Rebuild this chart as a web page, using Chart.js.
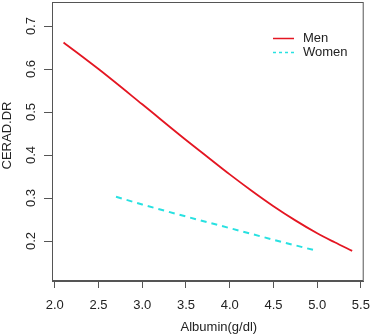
<!DOCTYPE html>
<html>
<head>
<meta charset="utf-8">
<script src="https://cdn.jsdelivr.net/npm/chart.js@4"></script>
<style>
  html, body { margin: 0; padding: 0; background: #fff; }
  #wrap { width: 380px; height: 335px; }
</style>
</head>
<body>
<div id="wrap"><canvas id="chart" width="380" height="335"></canvas></div>
<script>
// values
const menAlbumin = [2.1, 2.5, 3.0, 3.5, 3.75, 4.0, 4.25, 4.5, 4.75, 5.0, 5.2, 5.4];
const menCerad = [0.662, 0.600, 0.518, 0.435, 0.395, 0.355, 0.317, 0.281, 0.248, 0.218, 0.197, 0.177];
const womenAlbumin = [2.7, 3.0, 3.5, 4.0, 4.5, 5.0];
const womenCerad = [0.303, 0.285, 0.257, 0.230, 0.203, 0.177];
const xTicks = [2.0, 2.5, 3.0, 3.5, 4.0, 4.5, 5.0, 5.5];
const yTicks = [0.2, 0.3, 0.4, 0.5, 0.6, 0.7];

const font = "'Liberation Sans', Arial, sans-serif";
const axisGrey = '#555';
const textCol = '#222';

const toPoints = (xs, ys) => xs.map((x, i) => ({ x: x, y: ys[i] }));

// R style box, y ticks with rotated labels, axis titles, legend
const rStyle = {
    id: 'rStyle',
    afterDraw(chart) {
        const ctx = chart.ctx;
        const a = chart.chartArea;
        const ys = chart.scales.y;
        ctx.save();
        ctx.strokeStyle = axisGrey;
        ctx.lineWidth = 1;
        ctx.strokeRect(a.left + 0.5, a.top + 0.5, a.right - a.left - 1, a.bottom - a.top - 1);

        // y tick marks
        yTicks.forEach(v => {
            const py = Math.round(ys.getPixelForValue(v)) + 0.5;
            ctx.beginPath();
            ctx.moveTo(a.left - 8, py);
            ctx.lineTo(a.left + 1, py);
            ctx.stroke();
        });

        ctx.fillStyle = textCol;
        ctx.font = '13px ' + font;
        ctx.textAlign = 'center';
        ctx.textBaseline = 'middle';
        yTicks.forEach(v => {
            ctx.save();
            ctx.translate(31, ys.getPixelForValue(v));
            ctx.rotate(-Math.PI / 2);
            ctx.fillText(v.toFixed(1), 0, 0);
            ctx.restore();
        });

        ctx.save();
        ctx.translate(7, (a.top + a.bottom) / 2 - 6);
        ctx.rotate(-Math.PI / 2);
        ctx.fillText('CERAD.DR', 0, 0);
        ctx.restore();

        ctx.fillText('Albumin(g/dl)', (a.left + a.right) / 2 + 11, 327);

        // legend
        ctx.textAlign = 'left';
        ctx.lineWidth = 1.5;
        ctx.strokeStyle = chart.data.datasets[0].borderColor;
        ctx.beginPath();
        ctx.moveTo(273, 38.5);
        ctx.lineTo(294, 38.5);
        ctx.stroke();
        ctx.fillText('Men', 303, 38);
        ctx.strokeStyle = chart.data.datasets[1].borderColor;
        ctx.setLineDash([3, 3]);
        ctx.beginPath();
        ctx.moveTo(273, 52.5);
        ctx.lineTo(294, 52.5);
        ctx.stroke();
        ctx.setLineDash([]);
        ctx.fillText('Women', 303, 52);
        ctx.restore();
    }
};

new Chart(document.getElementById('chart'), {
    type: 'scatter',
    data: {
        datasets: [
            {
                label: 'Men',
                data: toPoints(menAlbumin, menCerad),
                showLine: true,
                borderColor: 'rgb(228, 22, 34)',
                borderWidth: 1.8,
                pointRadius: 0,
                cubicInterpolationMode: 'monotone'
            },
            {
                label: 'Women',
                data: toPoints(womenAlbumin, womenCerad),
                showLine: true,
                borderColor: 'rgb(40, 225, 225)',
                borderWidth: 2,
                borderDash: [6, 5],
                pointRadius: 0,
                cubicInterpolationMode: 'monotone'
            }
        ]
    },
    options: {
        responsive: false,
        animation: false,
        layout: { padding: { left: 0, right: 6, top: 2, bottom: 0 } },
        plugins: {
            legend: { display: false },
            tooltip: { enabled: false }
        },
        scales: {
            x: {
                type: 'linear',
                min: 1.968,
                max: 5.532,
                afterBuildTicks: s => { s.ticks = xTicks.map(v => ({ value: v })); },
                afterFit: s => { s.height = 54; },
                grid: { drawOnChartArea: false, drawTicks: true, tickLength: 7, color: axisGrey },
                border: { display: true, color: axisGrey },
                ticks: {
                    color: textCol,
                    font: { family: font, size: 13 },
                    padding: 10,
                    maxRotation: 0,
                    autoSkip: false,
                    callback: v => Number(v).toFixed(1)
                }
            },
            y: {
                type: 'linear',
                min: 0.107,
                max: 0.756,
                afterBuildTicks: s => { s.ticks = yTicks.map(v => ({ value: v })); },
                afterFit: s => { s.width = 52; },
                grid: { drawOnChartArea: false, drawTicks: false, color: axisGrey },
                border: { display: true, color: axisGrey },
                ticks: { display: false }
            }
        }
    },
    plugins: [rStyle]
});
</script>
</body>
</html>
